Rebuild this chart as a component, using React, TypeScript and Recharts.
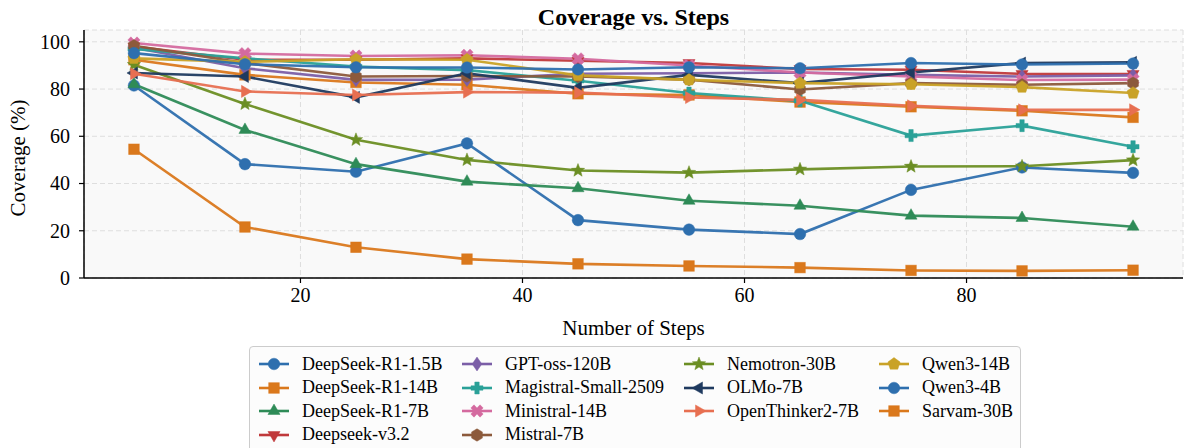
import React from "react";
import {
    LineChart,
    Line,
    XAxis,
    YAxis,
    CartesianGrid,
} from "recharts";

// Number of steps (x positions)
const STEPS = [5, 15, 25, 35, 45, 55, 65, 75, 85, 95];
const X_TICKS = [20, 40, 60, 80];
const Y_TICKS = [0, 20, 40, 60, 80, 100];

// coverage (%) per model
const R1_1_5B = [81.5, 48.2, 45.0, 57.0, 24.5, 20.5, 18.6, 37.3, 46.8, 44.5];
const R1_14B = [92.4, 86.0, 82.8, 81.8, 78.0, 77.5, 74.5, 72.5, 70.8, 68.0];
const R1_7B = [82.0, 62.7, 48.2, 40.8, 38.0, 32.7, 30.6, 26.4, 25.4, 21.7];
const V3_2 = [98.0, 92.4, 92.4, 93.0, 92.0, 91.0, 88.5, 88.2, 86.4, 86.4];
const GPT_OSS = [97.5, 88.8, 83.9, 84.0, 86.5, 86.7, 87.0, 86.0, 85.3, 85.8];
const MAGISTRAL = [97.0, 93.0, 89.5, 88.0, 83.5, 78.3, 75.0, 60.3, 64.5, 55.6];
const MINISTRAL = [99.5, 95.0, 94.0, 94.3, 92.8, 90.0, 87.0, 85.3, 83.8, 84.0];
const MISTRAL = [98.3, 91.0, 85.3, 85.5, 85.3, 84.0, 79.8, 82.5, 81.8, 82.5];
const NEMOTRON = [90.3, 73.7, 58.5, 50.0, 45.5, 44.6, 46.0, 47.2, 47.3, 49.9];
const OLMO = [86.8, 85.3, 76.5, 86.7, 80.5, 86.0, 82.5, 87.0, 91.0, 91.3];
const OPENTHINKER = [86.5, 79.0, 77.5, 78.7, 78.5, 76.4, 75.4, 72.9, 71.2, 71.2];
const QWEN3_14B = [93.0, 91.5, 92.6, 92.4, 85.8, 83.9, 82.5, 82.0, 80.8, 78.3];
const QWEN3_4B = [95.2, 90.5, 89.2, 89.1, 88.3, 89.2, 88.8, 91.0, 90.4, 90.8];
const SARVAM = [54.5, 21.6, 13.0, 8.0, 6.0, 5.1, 4.4, 3.2, 3.0, 3.3];

type Shape =
    | "circle" | "square" | "triUp" | "triDown" | "triLeft" | "triRight"
    | "diamond" | "plus" | "x" | "hexagon" | "star" | "pentagon";

const SERIES: { key: string; name: string; values: number[]; color: string; shape: Shape }[] = [
    { key: "r1_15b", name: "DeepSeek-R1-1.5B", values: R1_1_5B, color: "#2e6fae", shape: "circle" },
    { key: "r1_14b", name: "DeepSeek-R1-14B", values: R1_14B, color: "#da781c", shape: "square" },
    { key: "r1_7b", name: "DeepSeek-R1-7B", values: R1_7B, color: "#2e8b57", shape: "triUp" },
    { key: "v32", name: "Deepseek-v3.2", values: V3_2, color: "#c0393b", shape: "triDown" },
    { key: "gpt", name: "GPT-oss-120B", values: GPT_OSS, color: "#7b5ea7", shape: "diamond" },
    { key: "magistral", name: "Magistral-Small-2509", values: MAGISTRAL, color: "#2aa198", shape: "plus" },
    { key: "ministral", name: "Ministral-14B", values: MINISTRAL, color: "#d46a9f", shape: "x" },
    { key: "mistral", name: "Mistral-7B", values: MISTRAL, color: "#8c5a3c", shape: "hexagon" },
    { key: "nemotron", name: "Nemotron-30B", values: NEMOTRON, color: "#6b8e23", shape: "star" },
    { key: "olmo", name: "OLMo-7B", values: OLMO, color: "#1f3a5f", shape: "triLeft" },
    { key: "openthinker", name: "OpenThinker2-7B", values: OPENTHINKER, color: "#e76f51", shape: "triRight" },
    { key: "qwen14", name: "Qwen3-14B", values: QWEN3_14B, color: "#c9a227", shape: "pentagon" },
    { key: "qwen4", name: "Qwen3-4B", values: QWEN3_4B, color: "#2e6fae", shape: "circle" },
    { key: "sarvam", name: "Sarvam-30B", values: SARVAM, color: "#da781c", shape: "square" },
];

const chartData = STEPS.map((step, i) => {
    const row: Record<string, number> = { step };
    SERIES.forEach((s) => (row[s.key] = s.values[i]));
    return row;
});

const FONT = '"Liberation Serif", "Times New Roman", serif';

function regular(n: number, r: number, rot: number, cx: number, cy: number) {
    const pts: string[] = [];
    for (let i = 0; i < n; i++) {
        const a = rot + (i * 2 * Math.PI) / n;
        pts.push(`${cx + r * Math.cos(a)},${cy + r * Math.sin(a)}`);
    }
    return pts.join(" ");
}

function crossPts(cx: number, cy: number, a: number, w: number, rot: number) {
    const base = [
        [-w, -a], [w, -a], [w, -w], [a, -w], [a, w], [w, w],
        [w, a], [-w, a], [-w, w], [-a, w], [-a, -w], [-w, -w],
    ];
    const c = Math.cos(rot), s = Math.sin(rot);
    return base.map(([x, y]) => `${cx + x * c - y * s},${cy + x * s + y * c}`).join(" ");
}

function marker(shape: Shape, cx: number, cy: number, color: string) {
    const p = { fill: color, stroke: color, strokeWidth: 0.8, strokeOpacity: 0.6 };
    switch (shape) {
        case "circle":
            return <circle cx={cx} cy={cy} r={5.8} {...p} />;
        case "square":
            return <rect x={cx - 5.3} y={cy - 5.3} width={10.6} height={10.6} {...p} />;
        case "triUp":
            return <polygon points={regular(3, 7, -Math.PI / 2, cx, cy)} {...p} />;
        case "triDown":
            return <polygon points={regular(3, 7, Math.PI / 2, cx, cy)} {...p} />;
        case "triLeft":
            return <polygon points={regular(3, 7, Math.PI, cx, cy)} {...p} />;
        case "triRight":
            return <polygon points={regular(3, 7, 0, cx, cy)} {...p} />;
        case "diamond":
            return <polygon points={`${cx},${cy - 7} ${cx + 4.8},${cy} ${cx},${cy + 7} ${cx - 4.8},${cy}`} {...p} />;
        case "plus":
            return <polygon points={crossPts(cx, cy, 6, 2.2, 0)} {...p} />;
        case "x":
            return <polygon points={crossPts(cx, cy, 6.5, 2.2, Math.PI / 4)} {...p} />;
        case "hexagon":
            return <polygon points={regular(6, 6.2, -Math.PI / 2, cx, cy)} {...p} />;
        case "pentagon":
            return <polygon points={regular(5, 6.4, -Math.PI / 2, cx, cy)} {...p} />;
        case "star": {
            const pts: string[] = [];
            for (let i = 0; i < 10; i++) {
                const r = i % 2 === 0 ? 7 : 3;
                const a = -Math.PI / 2 + (i * Math.PI) / 5;
                pts.push(`${cx + r * Math.cos(a)},${cy + r * Math.sin(a)}`);
            }
            return <polygon points={pts.join(" ")} {...p} />;
        }
    }
}

const makeDot = (shape: Shape, color: string) => (props: any) => {
    const { cx, cy, index } = props;
    if (cx == null || cy == null) return <g key={`d-${index}`} />;
    return <g key={`d-${index}`}>{marker(shape, cx, cy, color)}</g>;
};

const renderXTick = (props: any) => {
    const { x, y, payload, index } = props;
    return (
        <text
            key={`xt-${index}`}
            x={x} y={y} dy="0.75em" textAnchor="middle" fill="#000" fontSize={20}
            fontFamily="Liberation Serif" style={{ fontFamily: FONT }}
        >
            {payload.value}
        </text>
    );
};

const renderYTick = (props: any) => {
    const { x, y, payload, index } = props;
    return (
        <text
            key={`yt-${index}`}
            x={x} y={y} dy="0.34em" textAnchor="end" fill="#000" fontSize={20}
            fontFamily="Liberation Serif" style={{ fontFamily: FONT }}
        >
            {payload.value}
        </text>
    );
};

// legend: 4 columns filled column by column (4, 4, 3, 3 items)
const LEG_COL_SIZES = [4, 4, 3, 3];
const LEG_COLS = [8, 211, 433, 628];
const LEG_ROW0 = 17;
const LEG_ROW_STEP = 23.5;

function legendSlot(i: number) {
    let start = 0;
    for (let c = 0; c < LEG_COL_SIZES.length; c++) {
        if (i < start + LEG_COL_SIZES[c]) return { col: c, row: i - start };
        start += LEG_COL_SIZES[c];
    }
    return { col: 0, row: 0 };
}

export default function App() {
    return (
        <div style={{ position: "absolute", left: 0, top: 0, width: 1184, height: 448, background: "#fff", overflow: "hidden", fontFamily: FONT }}>
            <div
                style={{
                    position: "absolute", left: 84, width: 1099, top: 4, textAlign: "center",
                    fontFamily: FONT, fontWeight: "bold", fontSize: 24, color: "#000",
                }}
            >
                Coverage vs. Steps
            </div>
            <LineChart
                width={1184}
                height={320}
                data={chartData}
                margin={{ top: 30, right: 1, bottom: 10, left: 0 }}
                style={{ fontFamily: FONT }}
            >
                <CartesianGrid strokeDasharray="5 3" stroke="#dedede" fill="#f9f9f9" />
                <XAxis
                    dataKey="step"
                    type="number"
                    domain={[0.5, 99.5]}
                    ticks={X_TICKS}
                    height={32}
                    tickSize={5}
                    tickMargin={4}
                    tick={renderXTick}
                    axisLine={{ stroke: "#000", strokeWidth: 1.5 }}
                    tickLine={{ stroke: "#000", strokeWidth: 1.2 }}
                />
                <YAxis
                    type="number"
                    domain={[0, 105]}
                    ticks={Y_TICKS}
                    width={84}
                    tickSize={5}
                    tickMargin={9}
                    tick={renderYTick}
                    axisLine={{ stroke: "#000", strokeWidth: 1.5 }}
                    tickLine={{ stroke: "#000", strokeWidth: 1.2 }}
                />
                {SERIES.map((s) => (
                    <Line
                        key={s.key}
                        dataKey={s.key}
                        name={s.name}
                        stroke={s.color}
                        strokeWidth={2.6}
                        strokeOpacity={0.95}
                        dot={makeDot(s.shape, s.color)}
                        activeDot={false}
                        isAnimationActive={false}
                    />
                ))}
            </LineChart>
            <div
                style={{
                    position: "absolute", left: 18, top: 158, transform: "translate(-50%, -50%) rotate(-90deg)",
                    whiteSpace: "nowrap",
                    fontFamily: FONT, fontSize: 21, color: "#000",
                }}
            >
                Coverage (%)
            </div>
            <div
                style={{
                    position: "absolute", left: 84, width: 1099, top: 316, textAlign: "center",
                    fontFamily: FONT, fontSize: 21, color: "#000",
                }}
            >
                Number of Steps
            </div>
            <div
                style={{
                    position: "absolute", left: 249, top: 346, width: 772, height: 120,
                    border: "1px solid #cccccc", borderRadius: 4, background: "#fcfcfc",
                    boxSizing: "border-box",
                }}
            >
                {SERIES.map((s, i) => {
                    const { col, row } = legendSlot(i);
                    const y = LEG_ROW0 + row * LEG_ROW_STEP;
                    return (
                        <div
                            key={s.key}
                            style={{ position: "absolute", left: LEG_COLS[col], top: y - 12, height: 24, display: "flex", alignItems: "center" }}
                        >
                            <svg width={32} height={24} style={{ display: "block" }}>
                                <line x1={1} y1={12} x2={31} y2={12} stroke={s.color} strokeWidth={2.6} />
                                {marker(s.shape, 16, 12, s.color)}
                            </svg>
                            <span style={{ marginLeft: 12, fontFamily: FONT, fontSize: 18, color: "#000", whiteSpace: "nowrap" }}>
                                {s.name}
                            </span>
                        </div>
                    );
                })}
            </div>
        </div>
    );
}
